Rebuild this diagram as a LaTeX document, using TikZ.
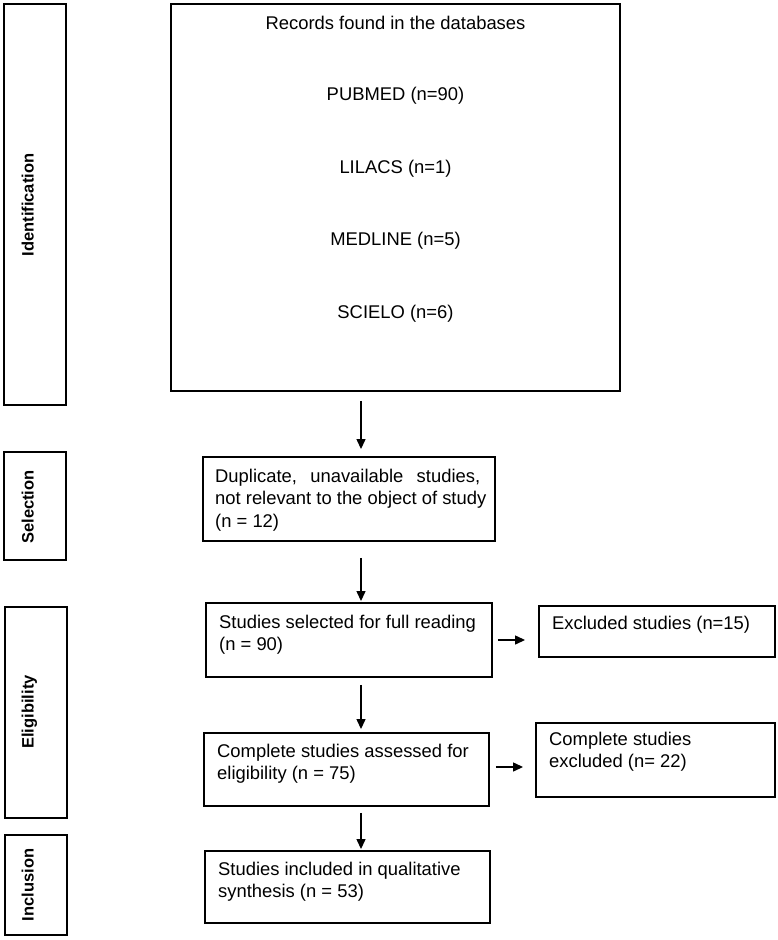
\documentclass[tikz,border=0pt]{standalone}
\usepackage{fontspec}
\setmainfont{Liberation Sans}
\usetikzlibrary{arrows.meta}
\newcommand\myst{\rule{0pt}{14pt}}
\begin{document}
\begin{tikzpicture}[x=1pt,y=-1pt,
  box/.style={draw, line width=1.9pt, inner sep=0pt},
  lab/.style={rotate=90, anchor=base, inner sep=0pt, font=\fontsize{16.5}{20}\selectfont\bfseries},
  txt/.style={anchor=north west, inner sep=0pt, align=left, font=\fontsize{18.4}{22.5}\selectfont},
  ctxt/.style={anchor=base, inner sep=0pt, font=\fontsize{18.4}{22.5}\selectfont},
  arr/.style={-{Triangle[width=9pt,length=10pt]}, line width=1.3pt},
]
\useasboundingbox (0,0) rectangle (777,940);

% side phase boxes
\node[box, minimum width=62pt, minimum height=401pt] (idb) at (35,204.5) {};
\node[box, minimum width=62pt, minimum height=108pt] (selb) at (35,506) {};
\node[box, minimum width=62pt, minimum height=211pt] (elb) at (36,712.5) {};
\node[box, minimum width=62pt, minimum height=100pt] (incb) at (36,885) {};
\node[lab] (idl) at (33.5,205) {Identification};
\node[lab] (sell) at (33.5,507) {Selection};
\node[lab] (ell) at (33.5,712) {Eligibility};
\node[lab] (incl) at (33.5,885) {Inclusion};

% main boxes
\node[box, minimum width=449pt, minimum height=387pt] (rec) at (395.5,197.5) {};
\node[box, minimum width=292pt, minimum height=84pt] (dup) at (349,499) {};
\node[box, minimum width=286pt, minimum height=74pt] (sel) at (349,640) {};
\node[box, minimum width=236pt, minimum height=51pt] (exc) at (657,631.5) {};
\node[box, minimum width=285pt, minimum height=73pt] (ass) at (346.5,769.5) {};
\node[box, minimum width=239pt, minimum height=74pt] (cex) at (655.5,760) {};
\node[box, minimum width=285pt, minimum height=72pt] (inc) at (347.5,887) {};

% records texts
\node[ctxt] (rt) at (395.5,29) {Records found in the databases};
\node[ctxt] (pm) at (395.5,100) {PUBMED (n=90)};
\node[ctxt] (li) at (395.5,173) {LILACS (n=1)};
\node[ctxt] (me) at (395.5,245) {MEDLINE (n=5)};
\node[ctxt] (sc) at (395.5,318) {SCIELO (n=6)};

% box texts
\node[txt] (dupt) at (215,468) {\myst\hbox to 265pt{Duplicate,\hfill unavailable\hfill studies,}\\not relevant to the object of study\\(n = 12)};
\node[txt] (selt) at (219,614) {\myst Studies selected for full reading\\(n = 90)};
\node[txt] (exct) at (552,615) {\myst Excluded studies (n=15)};
\node[txt] (asst) at (217,743) {\myst Complete studies assessed for\\eligibility (n = 75)};
\node[txt] (cext) at (549,731) {\myst Complete studies\\excluded (n= 22)};
\node[txt] (inct) at (218,861) {\myst Studies included in qualitative\\synthesis (n = 53)};

% connectors
\coordinate (ax) at (361,0);
\draw[arr, shorten <=9pt, shorten >=7pt] (rec.south -| ax) -- (dup.north -| ax);
\draw[arr, shorten <=16pt, shorten >=1pt] (dup.south -| ax) -- (sel.north -| ax);
\draw[arr, shorten <=7pt, shorten >=3pt] (sel.south -| ax) -- (ass.north -| ax);
\draw[arr, shorten <=6pt, shorten >=1pt] (ass.south -| ax) -- (inc.north -| ax);
\draw[arr, shorten <=5pt, shorten >=13pt] (sel.east) -- (sel.east -| exc.west);
\draw[arr, shorten <=6pt, shorten >=12pt] ([yshift=2.5pt]ass.east) -- ([yshift=2.5pt]ass.east -| cex.west);
\end{tikzpicture}
\end{document}
